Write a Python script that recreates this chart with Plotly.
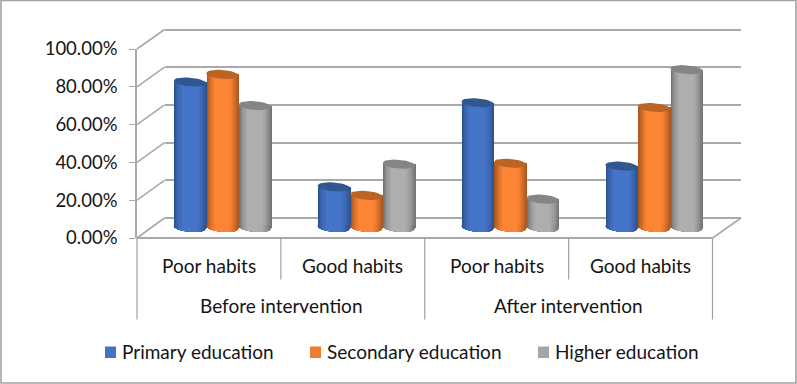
import math
import plotly.graph_objects as go

# ---- data ----
groups = ["Before intervention", "After intervention"]
categories = ["Poor habits", "Good habits", "Poor habits", "Good habits"]
series_names = ["Primary education", "Secondary education", "Higher education"]
primary = [0.77, 0.215, 0.66, 0.325]
secondary = [0.81, 0.17, 0.34, 0.635]
higher = [0.645, 0.335, 0.15, 0.835]
y_ticks = [0, 0.2, 0.4, 0.6, 0.8, 1.0]

# ---- style / layout ----
W, H = 797, 384
FONT = "Lato"
TEXT = "#141414"
GRID = "#a9a9a9"
DIV = "#a0a0a0"
edge = ["#2c5290", "#a9581f", "#747474"]
mid = ["#4674c8", "#fd8534", "#aeaeae"]
cap = ["#30578f", "#bb6423", "#858585"]
legend_col = ["#4472c4", "#ed7d31", "#a5a5a5"]

FX0, FX1 = 137.0, 712.5      # front plane
FY0, FY1 = 238.0, 49.0
BX0, BX1 = 164.5, 741.0      # back wall
BY0, BY1 = 218.0, 29.5
CX0, CX1 = 150.5, 726.0      # plane of cylinder axes
CY0, PXU = 227.5, 189.0      # y pixel of zero and pixels for 100 %
CYLOW, CYHIGH = 245.0, 20.0  # y pixel extent of the cylinder plot area
PADR = 0.05                  # padding of the wall axis so edge gridlines are kept


def dx(a, b):
    return [a / W, b / W]


def dy(bot, top):
    return [1 - bot / H, 1 - top / H]


def lerp_hex(a, b, t):
    ca = [int(a[i:i + 2], 16) for i in (1, 3, 5)]
    cb = [int(b[i:i + 2], 16) for i in (1, 3, 5)]
    return "#%02x%02x%02x" % tuple(round(p + (q - p) * t) for p, q in zip(ca, cb))


fig = go.Figure()
values = [primary, secondary, higher]
unit = (CX1 - CX0) / 4
cyl_w = 32.5 / unit
ry = 4.4 / PXU
rx = cyl_w / 2
tilt = 1.3 / PXU
layers = [(0.0, 1.0, 0.0), (0.03, 0.97, 0.12), (0.05, 0.94, 0.25), (0.07, 0.91, 0.38),
          (0.10, 0.88, 0.5), (0.13, 0.85, 0.62), (0.16, 0.82, 0.74), (0.20, 0.78, 0.87),
          (0.25, 0.72, 1.0)]

# back wall grid on the first subplot (lowest drawn)
fig.add_trace(go.Scatter(x=[0], y=[0], xaxis="x", yaxis="y", mode="markers",
                         marker=dict(opacity=0), showlegend=False, hoverinfo="skip"))


def ellipse_y(center, xrel, sign):
    r = max(0.0, 1 - (xrel / rx) ** 2)
    return center + sign * ry * math.sqrt(r) - tilt * (xrel / rx)


for s, vals in enumerate(values):
    offset = (s - 1) * cyl_w
    centers = [i + 0.5 + offset for i in range(4)]
    for l0, l1, t in layers:
        col = lerp_hex(edge[s], mid[s], t)
        width = (l1 - l0) * cyl_w
        shift = ((l0 + l1) / 2 - 0.5) * cyl_w
        fig.add_trace(go.Bar(x=[c + shift for c in centers], y=vals, width=width,
                             marker=dict(color=col, line=dict(width=0)),
                             xaxis="x2", yaxis="y2", name=series_names[s],
                             showlegend=False, hoverinfo="skip"))

for s, vals in enumerate(values):
    offset = (s - 1) * cyl_w
    centers = [i + 0.5 + offset for i in range(4)]
    # curved bottom edge, built layer by layer so the shading continues
    for l0, l1, t in layers:
        col = lerp_hex(edge[s], mid[s], t)
        xs, ys = [], []
        for c in centers:
            a, b = (l0 - 0.5) * cyl_w, (l1 - 0.5) * cyl_w
            pts = [a + (b - a) * k / 16 for k in range(17)]
            xs += [c + p for p in pts] + [c + b, c + a, None]
            ys += [ellipse_y(0, p, -1) for p in pts] + [0.012, 0.012, None]
        fig.add_trace(go.Scatter(x=xs, y=ys, xaxis="x2", yaxis="y2", mode="lines",
                                 line=dict(width=0), fill="toself", fillcolor=col,
                                 showlegend=False, hoverinfo="skip"))
    # top ellipse
    xs, ys = [], []
    for c, v in zip(centers, vals):
        for k in range(41):
            a = 2 * math.pi * k / 40
            xr = rx * math.cos(a)
            xs.append(c + xr)
            ys.append(v + ry * math.sin(a) - tilt * (xr / rx))
        xs.append(None)
        ys.append(None)
    fig.add_trace(go.Scatter(x=xs, y=ys, xaxis="x2", yaxis="y2", mode="lines",
                             line=dict(width=0), fill="toself", fillcolor=cap[s],
                             name=series_names[s], showlegend=False, hoverinfo="skip"))

# front axis holder
fig.add_trace(go.Scatter(x=[0], y=[0], xaxis="x3", yaxis="y3", mode="markers",
                         marker=dict(opacity=0), showlegend=False, hoverinfo="skip"))

shapes = []


def px_line(x0, y0, x1, y1, color=GRID, width=1.6):
    shapes.append(dict(type="line", xref="paper", yref="paper",
                       x0=x0 / W, x1=x1 / W, y0=1 - y0 / H, y1=1 - y1 / H,
                       line=dict(color=color, width=width), layer="below"))


# chart frame
shapes.append(dict(type="rect", xref="paper", yref="paper", x0=1 / W, x1=796 / W,
                   y0=1 - 383 / H, y1=1 - 0.5 / H, line=dict(color="#a3a3a3", width=1.6),
                   fillcolor="rgba(0,0,0,0)", layer="below"))
# side wall diagonals and floor
for v in y_ticks:
    px_line(FX0, FY0 + (FY1 - FY0) * v, BX0, BY0 + (BY1 - BY0) * v)
px_line(FX1, FY0, BX1, BY0)
px_line(FX0, FY0, FX1, FY0, width=2)
# category dividers
px_line(FX0, FY0, FX0, 319.5, DIV, 1.2)
for i in range(1, 5):
    bottom = 279.5 if i % 2 else 319.5
    x = FX0 + (FX1 - FX0) * i / 4
    px_line(x, FY0, x, bottom, DIV, 1.2)

ann = []
for i, c in enumerate(categories):
    ann.append(dict(text=c, x=i + 0.5, y=1 - 265 / H, xref="x3", yref="paper",
                    showarrow=False, xanchor="center", yanchor="middle",
                    font=dict(family=FONT, size=19, color=TEXT)))
for i, g in enumerate(groups):
    ann.append(dict(text=g, x=2 * i + 1, y=1 - 305 / H, xref="x3", yref="paper",
                    showarrow=False, xanchor="center", yanchor="middle",
                    font=dict(family=FONT, size=19, color=TEXT)))

# legend
for name, col, sq, tx in zip(series_names, legend_col, [105, 310, 538], [119.5, 325, 553]):
    shapes.append(dict(type="rect", xref="paper", yref="paper", x0=sq / W, x1=(sq + 11) / W,
                       y0=1 - 358 / H, y1=1 - 346.5 / H, fillcolor=col, line=dict(width=0)))
    ann.append(dict(text=name, x=tx / W, y=1 - 351 / H, xref="paper", yref="paper",
                    showarrow=False, xanchor="left", yanchor="middle",
                    font=dict(family=FONT, size=19, color=TEXT)))

hidden = dict(showgrid=False, showticklabels=False, zeroline=False, showline=False, ticks="")
wall_px = BY0 - BY1

fig.update_layout(
    width=W, height=H, autosize=False,
    margin=dict(l=0, r=0, t=0, b=0, pad=0, autoexpand=False),
    paper_bgcolor="white", plot_bgcolor="rgba(0,0,0,0)",
    barmode="overlay", bargap=0, showlegend=False,
    shapes=shapes, annotations=ann,
    xaxis=dict(domain=dx(BX0, BX1), range=[0, 4], anchor="y", **hidden),
    yaxis=dict(domain=dy(BY0 + PADR * wall_px, BY1 - PADR * wall_px),
               range=[-PADR, 1 + PADR], anchor="x", tickvals=y_ticks,
               showgrid=True, gridcolor=GRID, gridwidth=1.6, zeroline=False,
               showticklabels=False, showline=False, ticks=""),
    xaxis2=dict(domain=dx(CX0, CX1), range=[0, 4], anchor="y2", **hidden),
    yaxis2=dict(domain=dy(CYLOW, CYHIGH),
                range=[(CY0 - CYLOW) / PXU, (CY0 - CYHIGH) / PXU], anchor="x2", **hidden),
    xaxis3=dict(domain=dx(FX0, FX1), range=[0, 4], anchor="y3", **hidden),
    yaxis3=dict(domain=dy(FY0, FY1), range=[0, 1], anchor="x3", tickvals=y_ticks,
                tickformat=".2%", showgrid=False, zeroline=False,
                showline=True, linecolor=GRID, linewidth=1.6,
                ticks="outside", ticklen=6, tickcolor=GRID, tickwidth=1,
                ticklabelstandoff=8,
                tickfont=dict(family=FONT, size=18.5, color=TEXT)),
)

fig.write_html("out.html", config=dict(displayModeBar=False),
               post_script="document.body.style.margin='0';document.body.style.overflow='hidden';")
